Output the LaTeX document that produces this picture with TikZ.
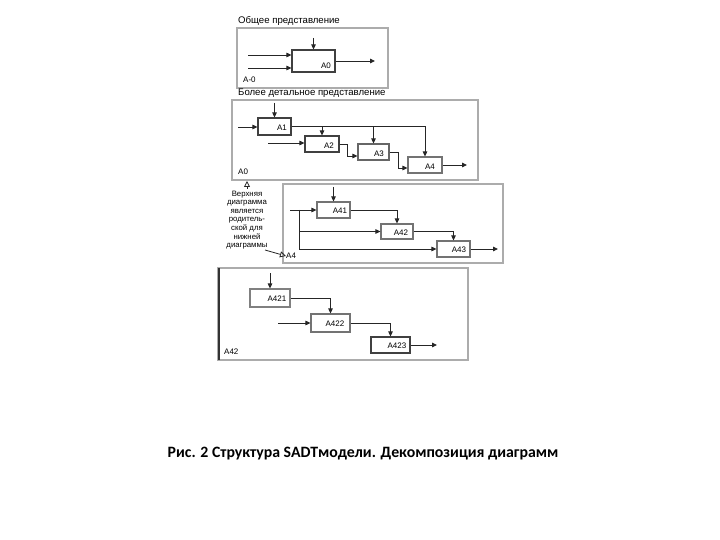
\documentclass[tikz,border=0pt]{standalone}
\usepackage{fontspec}
\setmainfont{Liberation Sans}
\newfontfamily\capfont{Carlito}
\usetikzlibrary{arrows.meta}
\begin{document}
\begin{tikzpicture}[x=1pt,y=-1pt,
  frame/.style={draw=gray!65,line width=1.6pt},
  box/.style={draw=black!75,line width=1.1pt,inner sep=0pt},
  lbl/.style={font=\fontsize{8}{8}\selectfont,inner sep=0pt},
  ttl/.style={font=\fontsize{9.6}{10}\selectfont,inner sep=0pt,anchor=west},
  arr/.style={draw=black!85,line width=0.85pt,-{Triangle[length=5pt,width=4.5pt]}},
  ln/.style={draw=black!85,line width=0.85pt},
  oarr/.style={draw=black!85,line width=0.8pt,-{Triangle[open,length=6pt,width=6pt]}}]
\useasboundingbox (0,0) rectangle (720,540);
\fill[white] (0,0) rectangle (720,540);

% ---------- Panel 1 : A-0 ----------
\node[ttl] (t1) at (238,21) {Общее представление};
\draw[frame] (237,28) rectangle (388,88);
\node[box,minimum width=43pt,minimum height=22pt] (A0) at (313.5,61) {};
\node[lbl] (A0l) at (326,66) {A0};
\node[lbl,anchor=west] (Am0) at (243,80) {A-0};
\coordinate (c0) at (313.5,38);
\coordinate (i01) at (248,55);
\coordinate (i02) at (248,68);
\coordinate (o0) at (375,61);
\draw[arr] (c0) -- (A0.north);
\draw[arr] (i01) -- (i01 -| A0.west);
\draw[arr] (i02) -- (i02 -| A0.west);
\draw[arr] (A0.east) -- (o0);

% ---------- Panel 2 : A0 ----------
\node[ttl] (t2) at (238,93) {Более детальное представление};
\draw[frame] (232,100) rectangle (478,180);
\node[box,minimum width=33pt,minimum height=17pt] (A1) at (274.5,126.5) {};
\node[box,minimum width=34pt,minimum height=16pt] (A2) at (322,144) {};
\node[box,minimum width=31pt,minimum height=16pt,draw=black!60] (A3) at (373.5,152) {};
\node[box,minimum width=34pt,minimum height=16pt,draw=black!55] (A4) at (425,165) {};
\node[lbl] (A1l) at (282,128) {A1};
\node[lbl] (A2l) at (329,146) {A2};
\node[lbl] (A3l) at (379,154) {A3};
\node[lbl] (A4l) at (430,167) {A4};
\node[lbl,anchor=west] (A0p) at (238,172) {A0};
\coordinate (c1) at (274.5,103);
\coordinate (i1) at (238,127);
\coordinate (i2) at (268,143);
\coordinate (o4) at (467,165);
\draw[arr] (c1) -- (A1.north);
\draw[arr] (i1) -- (i1 -| A1.west);
\draw[arr] (i2) -- (i2 -| A2.west);
\draw[arr] (A1.east) -- (A1.east -| A4.north) -- (A4.north);
\draw[arr] (A1.east -| A2.north) -- (A2.north);
\draw[arr] (A1.east -| A3.north) -- (A3.north);
\draw[arr] (A2.east) -- ++(8,0) |- ([yshift=-4pt]A3.west);
\draw[arr] (A3.east) -- ++(9,0) |- ([yshift=-3pt]A4.west);
\draw[arr] (A4.east) -- (o4);

% ---------- annotation ----------
\node[align=center,inner sep=0pt,font=\fontsize{7.8}{8.6}\selectfont] (note) at (247,220)
  {Верхняя\\диаграмма\\является\\родитель-\\ской для\\нижней\\диаграммы};
\coordinate (up) at (247,181);
\draw[oarr] (note.north) ++(0,-2) -- (up);

% ---------- Panel 3 : A4 ----------
\draw[frame] (283,184) rectangle (503,263);
\node[box,minimum width=33pt,minimum height=16pt,draw=black!55] (A41) at (333.5,210) {};
\node[box,minimum width=32pt,minimum height=15pt,draw=black!55] (A42) at (397,231.5) {};
\node[box,minimum width=33pt,minimum height=16pt,draw=black!55] (A43) at (453.5,249) {};
\node[lbl] (A41l) at (340,211) {A41};
\node[lbl] (A42l) at (401,233) {A42};
\node[lbl] (A43l) at (459,250) {A43};
\node[lbl,anchor=west] (A4p) at (286,256) {A4};
\draw[oarr] (265,250) -- (A4p.west);
\coordinate (c41) at (333.5,187);
\coordinate (i41) at (290,210);
\coordinate (v1) at (299,210);
\coordinate (v2) at (299,249);
\coordinate (o43) at (498,249);
\draw[arr] (c41) -- (A41.north);
\draw[arr] (i41) -- (A41.west);
\draw[ln] (v1) -- (v2);
\draw[arr] (v1 |- A42.west) -- (A42.west);
\draw[arr] (v2) -- (A43.west);
\draw[arr] (A41.east) -| (A42.north);
\draw[arr] (A42.east) -| (A43.north);
\draw[arr] (A43.east) -- (o43);

% ---------- Panel 4 : A42 ----------
\draw[frame] (218,268) rectangle (468,360);
\draw[black!80,line width=1.6pt] (219,268) -- (219,360);
\node[box,minimum width=40pt,minimum height=18pt,draw=black!50] (A421) at (270,298) {};
\node[box,minimum width=39pt,minimum height=18pt,draw=black!55] (A422) at (330.5,323) {};
\node[box,minimum width=39pt,minimum height=16pt] (A423) at (390.5,345) {};
\node[lbl] (A421l) at (277,299) {A421};
\node[lbl] (A422l) at (335,324) {A422};
\node[lbl] (A423l) at (397,346) {A423};
\node[lbl,anchor=west] (A42p) at (224,352) {A42};
\coordinate (c421) at (270,273);
\coordinate (i422) at (278,323);
\coordinate (o423) at (437,345);
\draw[arr] (c421) -- (A421.north);
\draw[arr] (A421.east) -| (A422.north);
\draw[arr] (i422) -- (A422.west);
\draw[arr] (A422.east) -| (A423.north);
\draw[arr] (A423.east) -- (o423);

% ---------- caption ----------
\node[font=\capfont\bfseries\fontsize{15.8}{17}\selectfont,inner sep=0pt] (cap) at (363,454)
  {Рис. 2 Структура SADTмодели. Декомпозиция диаграмм};
\end{tikzpicture}
\end{document}
